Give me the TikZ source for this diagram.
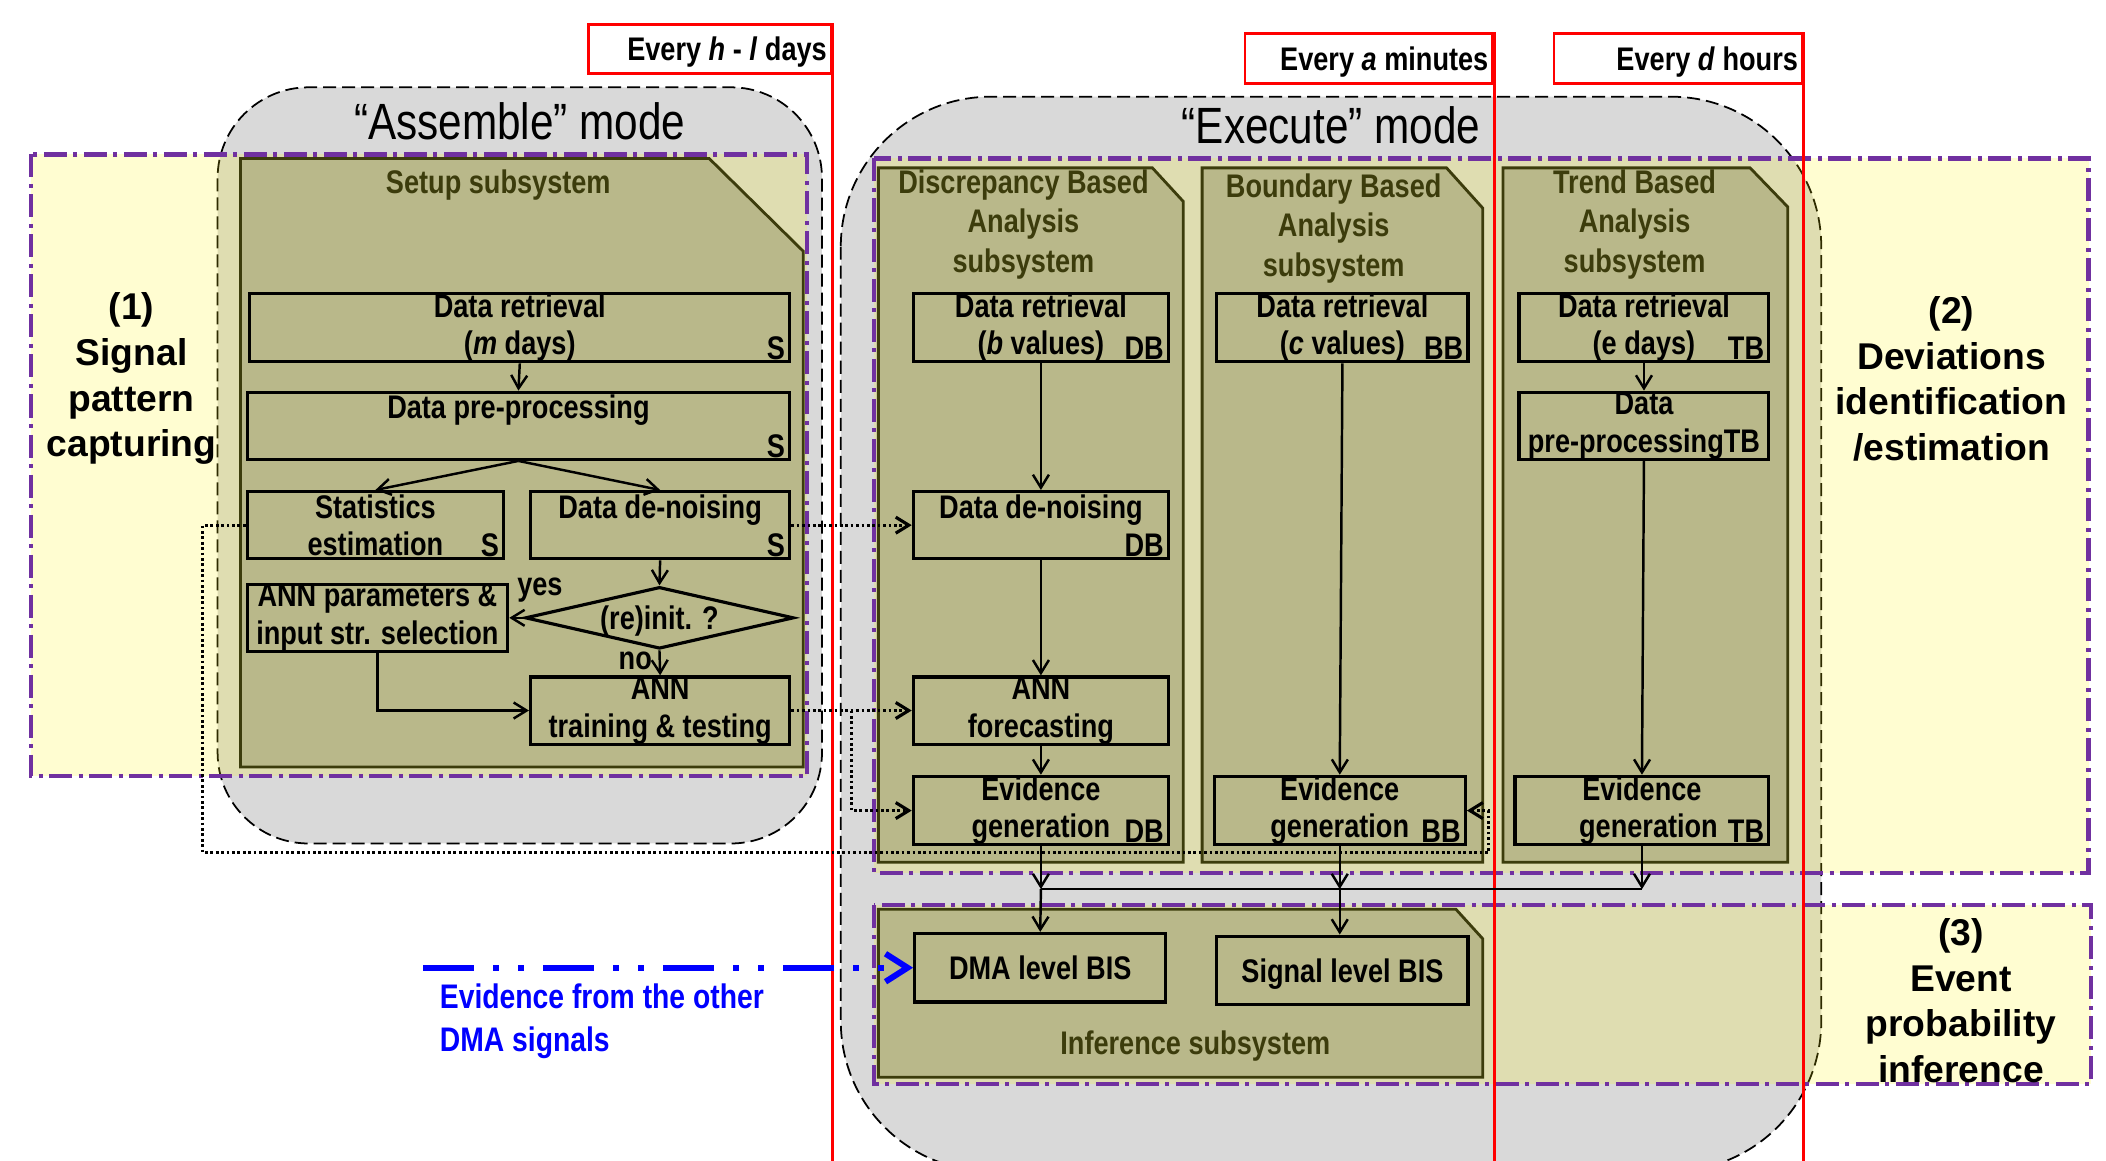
\documentclass[tikz,border=0pt]{standalone}
\usepackage{fontspec}
\setmainfont{Liberation Sans}[FakeStretch=0.83]
\newfontfamily\widefont{Liberation Sans}
\usetikzlibrary{arrows.meta,fit,shapes.geometric}
\definecolor{modegray}{HTML}{D9D9D9}
\definecolor{khaki}{HTML}{B9B88A}
\definecolor{olivedark}{HTML}{3C3C0C}
\definecolor{purp}{HTML}{7030A0}
\begin{document}
\begin{tikzpicture}[x=0.1343mm,y=-0.1343mm,
  every node/.style={font=\bfseries\fontsize{9.3}{10.7}\selectfont},
  mode/.style={fill=modegray,draw=black,line width=0.5pt,dash pattern=on 1.3mm off 0.6mm},
  zone/.style={draw=purp,line width=1.2pt,dash pattern=on 2.3mm off 0.65mm on 0.4mm off 0.65mm,fill=yellow,fill opacity=0.18},
  subsys/.style={fill=khaki,draw=olivedark,line width=0.8pt},
  stitle/.style={text=olivedark,align=center,font=\bfseries\fontsize{9.3}{11.2}\selectfont},
  pbox/.style={draw=black,line width=0.9pt,fill=khaki,inner sep=0pt,align=center},
  sz/.style 2 args={minimum width=#1*0.1343mm,minimum height=#2*0.1343mm},
  onebox/.style={pbox,text depth=0pt},
  tag/.style={anchor=south east,inner xsep=1.6pt,inner ysep=0.8pt},
  arr/.style={line width=0.7pt,-{Straight Barb[length=1.3mm,width=1.6mm]}},
  dots/.style={line width=0.9pt,dash pattern=on 0.27mm off 0.27mm,-{Straight Barb[length=1.3mm,width=1.6mm]}},
  bluearr/.style={draw=blue,line width=1.7pt,dash pattern=on 5.1mm off 1.9mm on 0.6mm off 1.9mm on 0.6mm off 1.9mm,-{Straight Barb[length=2.2mm,width=2.8mm]}},
  timebox/.style={draw=red,line width=0.8pt,fill=white,inner sep=0pt},
  timetext/.style={anchor=east,inner xsep=1.5pt,text depth=0pt,font=\bfseries\fontsize{9.3}{11}\selectfont},
  redline/.style={draw=red,line width=0.8pt},
  side/.style={align=center,font=\widefont\bfseries\fontsize{10.6}{13}\selectfont},
  modetitle/.style={font=\mdseries\fontsize{14.5}{16}\selectfont},
  lbl/.style={inner sep=0pt}
]
\useasboundingbox (0,0) rectangle (1568,864.4);

% modes
\draw[mode,rounded corners=9.1mm] (162,65) rectangle (612,628);
\draw[mode,rounded corners=15mm] (626,72) rectangle (1356,872);

% zones
\draw[zone] (23,115) rectangle (601,578);
\draw[zone] (651,118) rectangle (1555,650);
\draw[zone] (651,674) rectangle (1557,807);

% time boxes and lines
\node[timebox,fit={(438,18) (619,55)}] (tb1) {};
\node[timetext] (tb1t) at (tb1.east) {Every \textit{h} - \textit{l} days};
\draw[redline] (tb1.north east) -- (tb1.north east |- 0,864.4);
\node[timebox,fit={(927,25) (1111.5,62)}] (tb2) {};
\node[timetext] (tb2t) at (tb2.east) {Every \textit{a} minutes};
\draw[redline] (tb2.north east) -- (tb2.north east |- 0,864.4);
\node[timebox,fit={(1157,25) (1342,62)}] (tb3) {};
\node[timetext] (tb3t) at (tb3.east) {Every \textit{d} hours};
\draw[redline] (tb3.north east) -- (tb3.north east |- 0,864.4);

% subsystems
\draw[subsys] (179,118) -- (528,118) -- (598,187) -- (598,571) -- (179,571) -- cycle;
\node[stitle] (setupT) at (371,138) {Setup subsystem};
\draw[subsys] (654,125) -- (858,125) -- (881,150) -- (881,642) -- (654,642) -- cycle;
\node[stitle] (dbT) at (762,167) {Discrepancy Based\\Analysis\\subsystem};
\draw[subsys] (895,125) -- (1077,125) -- (1104,155) -- (1104,642) -- (895,642) -- cycle;
\node[stitle] (bbT) at (993,170) {Boundary Based\\Analysis\\subsystem};
\draw[subsys] (1119,125) -- (1303,125) -- (1331,154) -- (1331,642) -- (1119,642) -- cycle;
\node[stitle] (tbT) at (1217,167) {Trend Based\\Analysis\\subsystem};
\draw[subsys] (654,677) -- (1084,677) -- (1104,699) -- (1104,802) -- (654,802) -- cycle;
\node[stitle] (infT) at (890,779) {Inference subsystem};

% setup boxes
\node[pbox,sz={402}{50}] (sdr) at (387,244) {Data retrieval\\(\textit{m} days)};
\node[tag] (sdrT) at (sdr.south east) {S};
\node[pbox,sz={404}{50}] (spp) at (386,317) {Data pre-processing\\\mbox{}};
\node[tag] (sppT) at (spp.south east) {S};
\node[pbox,sz={191}{50}] (sst) at (279.5,391) {Statistics\\estimation};
\node[tag] (sstT) at (sst.south east) {S};
\node[pbox,sz={193}{50}] (sdn) at (491.5,391) {Data de-noising\\\mbox{}};
\node[tag] (sdnT) at (sdn.south east) {S};
\node[pbox,sz={194}{50}] (sap) at (281,460) {ANN parameters \&\\input str. selection};
\node[draw=black,line width=0.9pt,fill=khaki,diamond,aspect=4.3,inner sep=0pt,
      minimum width=200*0.1343mm,minimum height=46*0.1343mm,text depth=0pt] (dia) at (491,460) {(re)init. ?};
\node[pbox,sz={193}{50}] (sann) at (491.5,529) {ANN\\training \& testing};
\node[lbl] (yes) at (402,439) {yes};
\node[lbl] (no) at (473,492) {no};

% DB boxes
\node[pbox,sz={190}{50}] (ddr) at (775,244) {Data retrieval\\(\textit{b} values)\hspace{2.4mm}};
\node[tag] (ddrT) at (ddr.south east) {DB};
\node[pbox,sz={190}{50}] (ddn) at (775,391) {Data de-noising\\\mbox{}};
\node[tag] (ddnT) at (ddn.south east) {DB};
\node[pbox,sz={190}{50}] (dann) at (775,529) {ANN\\forecasting};
\node[pbox,sz={190}{51}] (dev) at (775,603.5) {Evidence\\generation};
\node[tag] (devT) at (dev.south east) {DB};

% BB boxes
\node[pbox,sz={187}{50}] (bdr) at (999.5,244) {Data retrieval\\(\textit{c} values)\hspace{1.2mm}};
\node[tag] (bdrT) at (bdr.south east) {BB};
\node[pbox,sz={187}{51}] (bev) at (997.5,603.5) {Evidence\\generation\hspace{0.9mm}};
\node[tag] (bevT) at (bev.south east) {BB};

% TB boxes
\node[pbox,sz={186}{50}] (tdr) at (1224,244) {Data retrieval\\(e days)\hspace{1.3mm}};
\node[tag] (tdrT) at (tdr.south east) {TB};
\node[pbox,sz={186}{50}] (tpp) at (1224,317) {Data\\pre-processingTB};
\node[pbox,sz={189}{51}] (tev) at (1222.5,603.5) {Evidence\\\hspace{1.3mm}generation};
\node[tag] (tevT) at (tev.south east) {TB};

% inference boxes
\node[onebox,sz={187}{51}] (dma) at (774.5,720.5) {DMA level BIS};
\node[onebox,sz={187}{51}] (sig) at (999.5,722.5) {Signal level BIS};

% solid connectors
\draw[arr] (sdr.south) -- (spp.north);
\draw[arr] (spp.south) -- (sst.north);
\draw[arr] (spp.south) -- (sdn.north);
\draw[arr] (sdn.south) -- (dia.north);
\draw[arr] (dia.west) -- (sap.east);
\draw[arr] (dia.south) -- (sann.north);
\draw[arr] (sap.south) |- (sann.west);
\draw[arr] (ddr.south) -- (ddn.north);
\draw[arr] (ddn.south) -- (dann.north);
\draw[arr] (dann.south) -- (dev.north);
\draw[arr] (bdr.south) -- (bev.north);
\draw[arr] (tdr.south) -- (tpp.north);
\draw[arr] (tpp.south) -- (tev.north);
\coordinate (jD) at (dev.south |- 0,662);
\coordinate (jB) at (bev.south |- 0,662);
\coordinate (jT) at (tev.south |- 0,662);
\draw[arr] (dev.south) -- (jD);
\draw[arr] (bev.south) -- (jB);
\draw[arr] (tev.south) -- (jT);
\draw[line width=0.7pt] (jD) -- (jT);
\draw[arr] (jD) -- (dma.north);
\draw[arr] (jB) -- (jB |- sig.north);

% dotted connectors
\draw[dots] (sdn.east) -- (ddn.west);
\draw[dots] (sann.east) -- (dann.west);
\coordinate (brk) at (634,529);
\draw[dots] (brk) |- (dev.west);
\coordinate (lp) at (151,635);
\coordinate (rp) at (1108,635);
\draw[dots] (sst.west) -| (lp) -- (rp) |- (bev.east);

% blue evidence
\coordinate (bst) at (315,720.5);
\draw[bluearr] (bst) -- (dma.west);
\node[anchor=north west,inner sep=0pt,align=left,text=blue,font=\bfseries\fontsize{9.7}{12.2}\selectfont] (bluetxt) at (327,732) {Evidence from the other\\DMA signals};

% side labels
\node[side] (z1) at (98,282) {(1)\\Signal\\pattern\\capturing};
\node[side] (z2) at (1453,282) {(2)\\Deviations\\identification\\/estimation};
\node[side] (z3) at (1460,745) {(3)\\Event\\probability\\inference};

% mode titles
\node[modetitle] (asmT) at (387,90) {“Assemble” mode};
\node[modetitle] (exeT) at (991,93) {“Execute” mode};
\end{tikzpicture}
\end{document}
